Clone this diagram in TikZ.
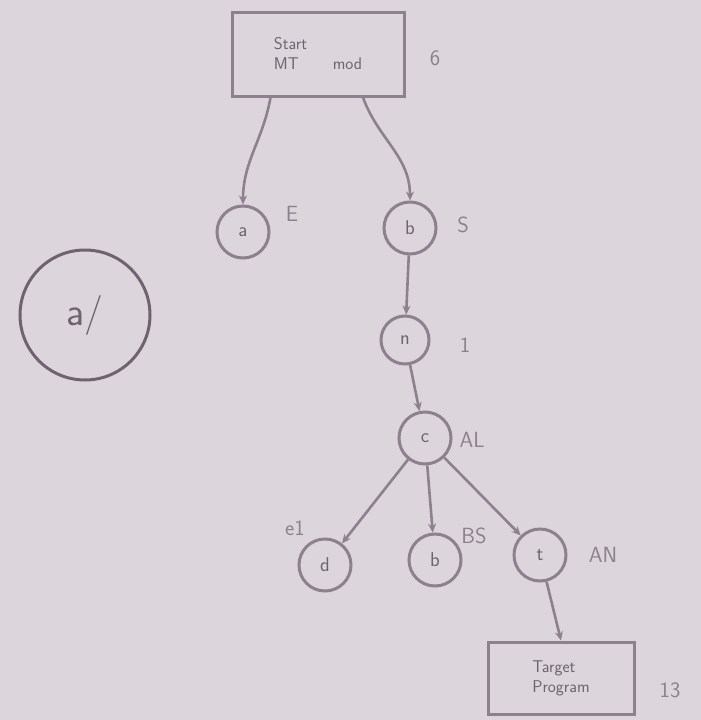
\documentclass[tikz,border=0pt]{standalone}
\usetikzlibrary{arrows.meta}
\definecolor{paper}{HTML}{DCD6DC}
\definecolor{ink}{HTML}{8C818C}
\definecolor{dark}{HTML}{6E636E}
\begin{document}
\begin{tikzpicture}[x=1pt,y=-1pt,
  st/.style={circle,draw=ink,line width=3pt,minimum size=52pt,inner sep=0pt,text=dark,font=\sffamily\fontsize{20}{22}\selectfont},
  bx/.style={rectangle,draw=ink,line width=3pt,text=dark,font=\sffamily\fontsize{17}{20}\selectfont,align=left},
  lbl/.style={text=ink,font=\sffamily\fontsize{22}{24}\selectfont},
  ed/.style={draw=ink,line width=2.6pt,-{Stealth[length=9pt,width=8pt]}}]
\fill[paper] (0,0) rectangle (701,720);
\useasboundingbox (0,0) rectangle (701,720);
\node[bx,minimum width=172pt,minimum height=84pt] (top) at (318,54) {Start\\ MT\quad\quad mod};
\node[lbl] (ltop) at (435,58) {6};
\node[st] (a) at (243,232) {a};
\node[lbl] (la) at (292,214) {E};
\node[st] (b) at (410,228) {b};
\node[lbl] (lb) at (463,225) {S};
\node[st,minimum size=48pt] (c) at (405,340) {n};
\node[lbl] (lc) at (465,345) {1};
\node[st] (d) at (425,438) {c};
\node[lbl] (ld) at (472,440) {AL};
\node[st] (e) at (325,565) {d};
\node[lbl] (le) at (295,528) {e1};
\node[st] (f) at (435,560) {b};
\node[lbl] (lf) at (474,536) {BS};
\node[st] (g) at (540,555) {t};
\node[lbl] (lg) at (603,555) {AN};
\node[bx,minimum width=146pt,minimum height=72pt] (tgt) at (561,678) {Target\\ Program};
\node[lbl] (lt) at (670,690) {13};
\node[circle,draw=dark,line width=3pt,minimum size=130pt,text=dark,font=\sffamily\fontsize{40}{44}\selectfont] (big) at (85,315) {a/};
\draw[ed] (top.south west)++(40,0) to[out=-100,in=90] (a.north);
\draw[ed] (top.south)++(45,0) to[out=-70,in=90] (b.north);
\draw[ed] (b) -- (c);
\draw[ed] (c) -- (d);
\draw[ed] (d) -- (e);
\draw[ed] (d) -- (f);
\draw[ed] (d) -- (g);
\draw[ed] (g) -- (tgt.north);
\end{tikzpicture}
\end{document}
